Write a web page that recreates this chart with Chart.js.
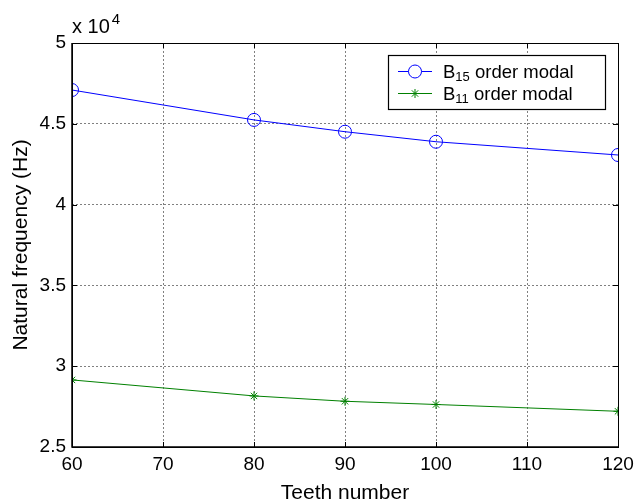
<!DOCTYPE html>
<html>
<head>
<meta charset="utf-8">
<script src="https://cdn.jsdelivr.net/npm/chart.js@4"></script>
<style>
  html, body { margin: 0; padding: 0; background: #fff; }
  #wrap { width: 636px; height: 504px; }
</style>
</head>
<body>
<div id="wrap"><canvas id="chart" width="636" height="504"></canvas></div>
<script>
  var teeth = [60, 80, 90, 100, 120];
  var b15 = [47090, 45240, 44510, 43890, 43070];
  var b11 = [29150, 28160, 27830, 27630, 27210];
  var legendParts = [["B", "15", " order modal"], ["B", "11", " order modal"]];
  var FONT = "'Liberation Sans', Arial, Helvetica, sans-serif";

  function toPoints(xs, ys) {
    var pts = [];
    for (var i = 0; i < xs.length; i++) pts.push({ x: xs[i], y: ys[i] });
    return pts;
  }

  // box, inner ticks, exponent label and legend, matlab style
  var matlabLook = {
    id: "matlabLook",
    afterDatasetsDraw: function(chart) {
      var ctx = chart.ctx;
      var a = chart.chartArea;
      var xs = chart.scales.x, ys = chart.scales.y;
      ctx.save();
      ctx.strokeStyle = "#000";
      ctx.lineWidth = 1;
      ctx.setLineDash([]);
      ctx.beginPath();
      xs.ticks.forEach(function(t) {
        var px = Math.round(xs.getPixelForValue(t.value)) + 0.5;
        ctx.moveTo(px, a.bottom); ctx.lineTo(px, a.bottom - 5);
        ctx.moveTo(px, a.top); ctx.lineTo(px, a.top + 5);
      });
      ys.ticks.forEach(function(t) {
        var py = Math.round(ys.getPixelForValue(t.value)) + 0.5;
        ctx.moveTo(a.left, py); ctx.lineTo(a.left + 5, py);
        ctx.moveTo(a.right, py); ctx.lineTo(a.right - 5, py);
      });
      ctx.stroke();
      ctx.lineWidth = 1.5;
      ctx.beginPath();
      ctx.moveTo(a.left, a.top); ctx.lineTo(a.left, a.bottom); ctx.lineTo(a.right, a.bottom);
      ctx.stroke();
      ctx.lineWidth = 1;
      ctx.strokeRect(Math.round(a.left) + 0.5, Math.round(a.top) + 0.5,
        Math.round(a.right - a.left), Math.round(a.bottom - a.top));

      // exponent
      ctx.fillStyle = "#000";
      ctx.textBaseline = "alphabetic";
      ctx.textAlign = "left";
      ctx.font = "20px " + FONT;
      ctx.fillText("x 10", a.left, 33);
      var w = ctx.measureText("x 10").width;
      ctx.font = "15px " + FONT;
      ctx.fillText("4", a.left + w + 2, 24);

      // legend
      var lx = 388.5, ly = 55.5, lw = 217, lh = 54;
      ctx.fillStyle = "#fff";
      ctx.fillRect(lx, ly, lw, lh);
      ctx.strokeStyle = "#000";
      ctx.lineWidth = 1.2;
      ctx.strokeRect(lx, ly, lw, lh);
      var rows = [71.5, 93.5];
      chart.data.datasets.forEach(function(ds, i) {
        var y = rows[i];
        ctx.strokeStyle = ds.borderColor;
        ctx.lineWidth = 1;
        ctx.beginPath();
        ctx.moveTo(398, y); ctx.lineTo(432, y);
        ctx.stroke();
        Chart.helpers.drawPoint(ctx, {
          pointStyle: ds.pointStyle, radius: ds.pointRadius, borderWidth: 1
        }, 415, y);
        var parts = legendParts[i];
        ctx.fillStyle = "#000";
        ctx.font = "18.5px " + FONT;
        var tx = 443;
        ctx.fillText(parts[0], tx, y + 6.5);
        tx += ctx.measureText(parts[0]).width;
        ctx.font = "13px " + FONT;
        ctx.fillText(parts[1], tx, y + 9.5);
        tx += ctx.measureText(parts[1]).width;
        ctx.font = "18.5px " + FONT;
        ctx.fillText(parts[2], tx, y + 6.5);
      });
      ctx.restore();
    }
  };

  var ctx = document.getElementById("chart").getContext("2d");
  var chart = new Chart(ctx, {
    type: "line",
    data: {
      datasets: [{
        label: "B15 order modal",
        data: toPoints(teeth, b15),
        borderColor: "#0000ff",
        backgroundColor: "rgba(0,0,0,0)",
        borderWidth: 1,
        pointStyle: "circle",
        pointRadius: 6.5,
        pointBorderWidth: 1,
        fill: false,
        tension: 0
      }, {
        label: "B11 order modal",
        data: toPoints(teeth, b11),
        borderColor: "#008000",
        backgroundColor: "rgba(0,0,0,0)",
        borderWidth: 1,
        pointStyle: "star",
        pointRadius: 4.5,
        pointBorderWidth: 1,
        fill: false,
        tension: 0
      }]
    },
    options: {
      responsive: false,
      animation: false,
      devicePixelRatio: 1,
      layout: { padding: { left: 0, right: 18, top: 43, bottom: 0 } },
      plugins: { legend: { display: false }, tooltip: { enabled: false } },
      scales: {
        x: {
          type: "linear",
          min: 60, max: 120,
          afterFit: function(s) { s.height = 57; s.paddingLeft = 0; s.paddingRight = 0; },
          border: { display: false, dash: [2, 2] },
          grid: { color: "#808080", drawTicks: false, lineWidth: 1 },
          ticks: { stepSize: 10, padding: 6, color: "#000", font: { family: FONT, size: 19 } },
          title: { display: true, text: "Teeth number", color: "#000", padding: { top: 0, bottom: 0 },
            font: { family: FONT, size: 21, lineHeight: 1 } }
        },
        y: {
          min: 25000, max: 50000,
          afterFit: function(s) { s.width = 72; s.paddingTop = 0; s.paddingBottom = 0; },
          border: { display: false, dash: [2, 2] },
          grid: { color: "#808080", drawTicks: false, lineWidth: 1 },
          ticks: {
            stepSize: 5000, padding: 6, color: "#000", font: { family: FONT, size: 19 },
            callback: function(v) { return String(v / 10000); }
          },
          title: { display: true, text: "Natural frequency (Hz)", color: "#000", padding: { top: 11, bottom: 0 },
            font: { family: FONT, size: 21, lineHeight: 1 } }
        }
      }
    },
    plugins: [matlabLook]
  });
</script>
</body>
</html>
